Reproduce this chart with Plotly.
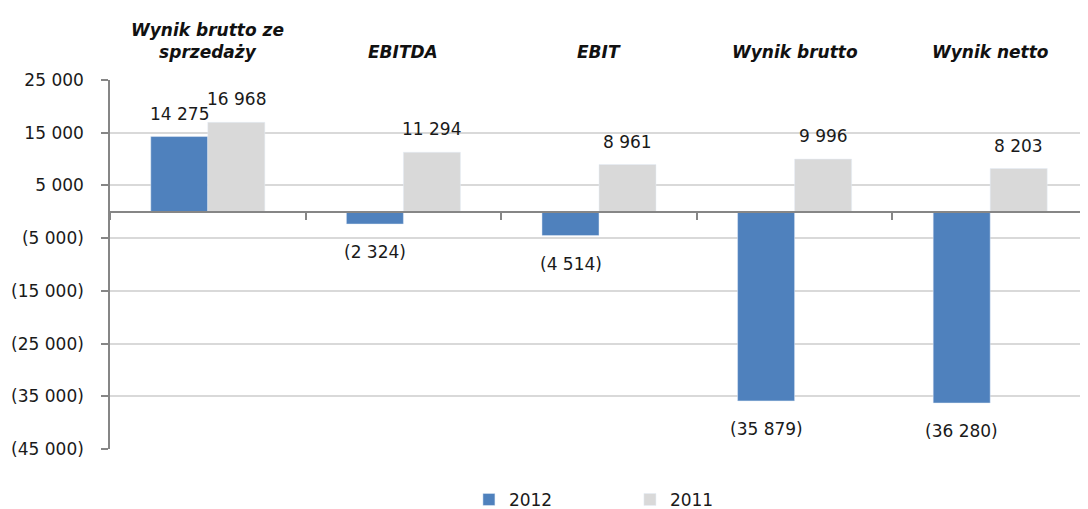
import plotly.graph_objects as go

categories = ["Wynik brutto ze<br>sprzedaży", "EBITDA", "EBIT", "Wynik brutto", "Wynik netto"]
values_2012 = [14275, -2324, -4514, -35879, -36280]
values_2011 = [16968, 11294, 8961, 9996, 8203]
y_tick_values = [25000, 15000, 5000, -5000, -15000, -25000, -35000, -45000]
y_tick_labels = ["25 000", "15 000", "5 000", "(5 000)", "(15 000)", "(25 000)", "(35 000)", "(45 000)"]

BLUE = "#4F81BD"
GRAY = "#D9D9D9"
FONT = "DejaVu Sans"


def fmt(v):
    s = f"{abs(v):,}".replace(",", " ")
    return f"({s})" if v < 0 else s


fig = go.Figure()
fig.add_trace(go.Bar(name="2012", x=categories, y=values_2012, marker_color=BLUE))
fig.add_trace(go.Bar(name="2011", x=categories, y=values_2011, marker_color=GRAY))

annotations = []
for series, shift in ((values_2012, -28.5), (values_2011, 28.5)):
    for cat, v in zip(categories, series):
        annotations.append(dict(
            x=cat, y=v, xref="x", yref="y", text=fmt(v), showarrow=False,
            xshift=shift, yshift=23 if v >= 0 else -28, yanchor="middle",
            font=dict(family=FONT, size=17, color="#1a1a1a"),
        ))
for cat in categories:
    annotations.append(dict(
        x=cat, y=1, xref="x", yref="paper", text=f"<b><i>{cat}</i></b>", showarrow=False,
        yanchor="bottom", yshift=16, font=dict(family=FONT, size=17, color="#111111"),
    ))

# The page body adds an 8px offset, so the figure is sized 8px smaller.
fig.update_layout(
    width=1080, height=501,
    margin=dict(l=102, r=0, t=72, b=60, autoexpand=False),
    paper_bgcolor="white", plot_bgcolor="white",
    barmode="group", bargap=0.417, bargroupgap=0,
    font=dict(family=FONT, size=17, color="#1a1a1a"),
    annotations=annotations,
    legend=dict(orientation="h", x=0.367, xanchor="left", y=-0.138, yanchor="middle",
                entrywidth=116, entrywidthmode="pixels", font=dict(size=17),
                itemwidth=30),
    xaxis=dict(
        automargin=False,
        anchor="free", position=45000 / 70000,
        showline=True, linecolor="#868686", linewidth=1.5,
        ticks="outside", tickson="boundaries", ticklen=7, tickcolor="#868686", tickwidth=1.5,
        showticklabels=False, showgrid=False,
    ),
    yaxis=dict(
        automargin=False,
        range=[-45000, 25000], tickvals=y_tick_values, ticktext=y_tick_labels,
        showline=True, linecolor="#868686", linewidth=1.5,
        ticks="outside", ticklen=7, tickcolor="#868686", tickwidth=1.5,
        showgrid=True, gridcolor="#D9D9D9", gridwidth=1.5,
        zeroline=False, ticklabelstandoff=14,
        tickfont=dict(family=FONT, size=17, color="#1a1a1a"),
    ),
)

fig.write_html("out.html")
